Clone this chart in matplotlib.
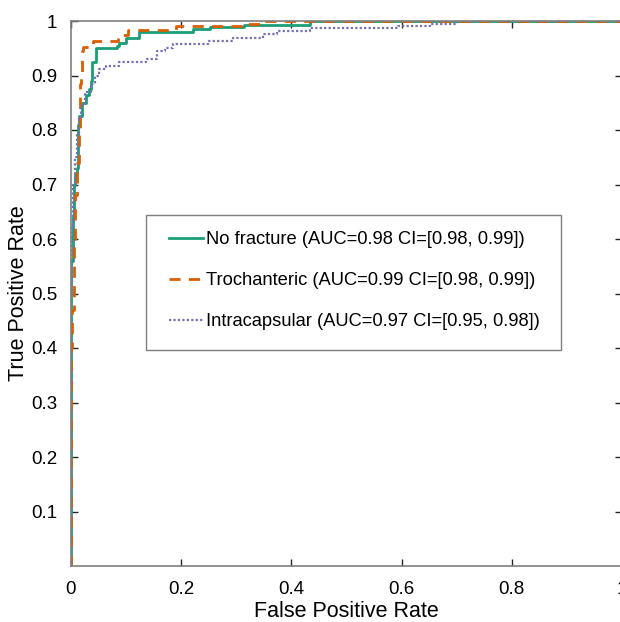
import matplotlib
matplotlib.use("Agg")
import matplotlib.pyplot as plt
from matplotlib.patches import Rectangle

plt.rcParams['font.family'] = ['Liberation Sans', 'DejaVu Sans']

labels = ["No fracture (AUC=0.98 CI=[0.98, 0.99])",
          "Trochanteric (AUC=0.99 CI=[0.98, 0.99])",
          "Intracapsular (AUC=0.97 CI=[0.95, 0.98])"]
colors = ["#1b9e77", "#d95f02", "#7570b3"]

# ROC staircase vertices (FPR, TPR)
nofrac_fpr = [0, 0, 0.003, 0.003, 0.006, 0.006, 0.008, 0.008, 0.010, 0.010, 0.012, 0.012,
              0.013, 0.013, 0.015, 0.015, 0.020, 0.020, 0.027, 0.027, 0.033, 0.033, 0.036,
              0.036, 0.039, 0.039, 0.045, 0.045, 0.084, 0.084, 0.088, 0.088, 0.100, 0.100,
              0.124, 0.124, 0.221, 0.221, 0.252, 0.252, 0.314, 0.314, 0.433, 0.433, 1.0]
nofrac_tpr = [0, 0.56, 0.56, 0.64, 0.64, 0.70, 0.70, 0.72, 0.72, 0.73, 0.73, 0.76,
              0.76, 0.81, 0.81, 0.825, 0.825, 0.85, 0.85, 0.865, 0.865, 0.875, 0.875,
              0.89, 0.89, 0.925, 0.925, 0.95, 0.95, 0.955, 0.955, 0.96, 0.96, 0.968,
              0.968, 0.98, 0.98, 0.985, 0.985, 0.989, 0.989, 0.992, 0.992, 1.0, 1.0]

troch_fpr = [0, 0, 0.002, 0.002, 0.006, 0.006, 0.008, 0.008, 0.011, 0.011, 0.014, 0.014,
             0.017, 0.017, 0.018, 0.018, 0.020, 0.020, 0.022, 0.022, 0.040, 0.040, 0.085,
             0.085, 0.103, 0.103, 0.19, 0.19, 0.316, 0.316, 0.35, 0.35, 1.0]
troch_tpr = [0, 0.40, 0.40, 0.47, 0.47, 0.60, 0.60, 0.68, 0.68, 0.74, 0.74, 0.79,
             0.79, 0.885, 0.885, 0.90, 0.90, 0.945, 0.945, 0.952, 0.952, 0.963, 0.963,
             0.975, 0.975, 0.983, 0.983, 0.990, 0.990, 0.994, 0.994, 1.0, 1.0]

intra_fpr = [0, 0, 0.002, 0.002, 0.004, 0.004, 0.008, 0.008, 0.011, 0.011, 0.014, 0.014,
             0.018, 0.018, 0.025, 0.025, 0.036, 0.036, 0.044, 0.044, 0.051, 0.051, 0.064,
             0.064, 0.087, 0.087, 0.136, 0.136, 0.156, 0.156, 0.17, 0.17, 0.185, 0.185,
             0.249, 0.249, 0.294, 0.294, 0.348, 0.348, 0.374, 0.374, 0.434, 0.434, 0.593,
             0.593, 0.652, 0.652, 0.70, 0.70, 1.0]
intra_tpr = [0, 0.50, 0.50, 0.62, 0.62, 0.70, 0.70, 0.75, 0.75, 0.79, 0.79, 0.82,
             0.82, 0.845, 0.845, 0.87, 0.87, 0.885, 0.885, 0.90, 0.90, 0.912, 0.912,
             0.918, 0.918, 0.924, 0.924, 0.93, 0.93, 0.945, 0.945, 0.951, 0.951, 0.957,
             0.957, 0.963, 0.963, 0.968, 0.968, 0.976, 0.976, 0.981, 0.981, 0.987, 0.987,
             0.991, 0.991, 0.995, 0.995, 1.0, 1.0]

xticks = [0, 0.2, 0.4, 0.6, 0.8, 1]
xticklabels = ["0", "0.2", "0.4", "0.6", "0.8", "1"]
yticks = [0.1, 0.2, 0.3, 0.4, 0.5, 0.6, 0.7, 0.8, 0.9, 1]
yticklabels = ["0.1", "0.2", "0.3", "0.4", "0.5", "0.6", "0.7", "0.8", "0.9", "1"]

W, H = 620, 622
fig = plt.figure(figsize=(W / 100, H / 100), dpi=100)
L, R, T, B = 71, 622, 21, 566
ax = fig.add_axes([L / W, 1 - B / H, (R - L) / W, (B - T) / H])

l1, = ax.plot(nofrac_fpr, nofrac_tpr, color=colors[0], lw=2.0, ls='-')
l2, = ax.plot(troch_fpr, troch_tpr, color=colors[1], lw=2.0, ls=(0, (4, 3)))
l3, = ax.plot(intra_fpr, intra_tpr, color=colors[2], lw=1.6, ls=(0, (1, 1)))

ax.set_xlim(0, 1)
ax.set_ylim(0, 1)
ax.set_xticks(xticks)
ax.set_xticklabels(xticklabels)
ax.set_yticks(yticks)
ax.set_yticklabels(yticklabels)
spine_col = "#7f7f7f"
for s in ax.spines.values():
    s.set_color(spine_col)
    s.set_linewidth(1.2)
ax.tick_params(direction='in', length=5, width=1.0, colors='#262626',
               labelsize=13.5, top=True, right=True, labelcolor='black')
ax.tick_params(axis='x', pad=11)
ax.tick_params(axis='y', pad=10)
ax.set_xlabel("False Positive Rate", fontsize=15.5, labelpad=2)
ax.set_ylabel("True Positive Rate", fontsize=15.5, labelpad=1)

# legend box
rect = Rectangle((146 / W, 1 - 350 / H), (561 - 146) / W, (350 - 215) / H,
                 transform=fig.transFigure, facecolor='white', edgecolor='#7f7f7f',
                 lw=1.0, zorder=5)
fig.add_artist(rect)
leg = fig.legend([l1, l2, l3], labels, loc='upper left',
                 bbox_to_anchor=(169 / W, 1 - 231 / H), frameon=False,
                 fontsize=13.2, handlelength=1.85, handletextpad=0.15,
                 labelspacing=1.32, borderpad=0, borderaxespad=0)
leg.set_zorder(6)

fig.savefig("out.png", dpi=100)
